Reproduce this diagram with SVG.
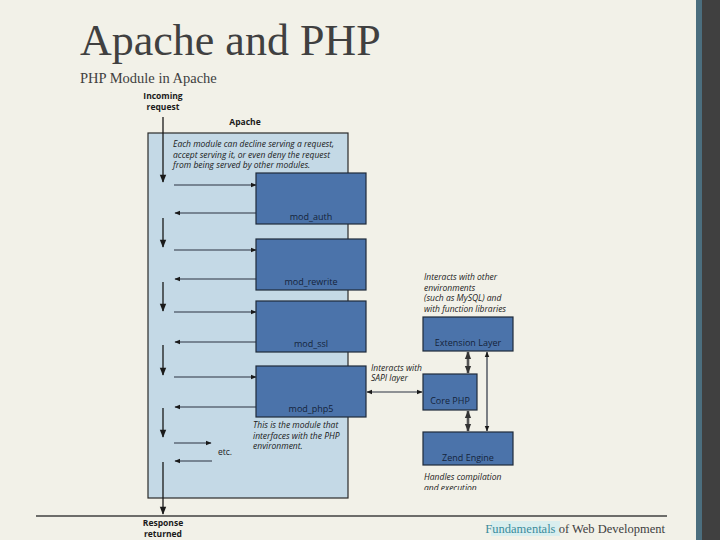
<svg xmlns="http://www.w3.org/2000/svg" width="720" height="540" viewBox="0 0 720 540">
<style>
.bg{fill:#f2f1e8}
.title{font-family:"Liberation Serif",serif;fill:#404040}
.lbl{font-family:"Open Sans","Liberation Sans",sans-serif;font-size:8.5px;fill:#1a1a1a}
.b{font-weight:bold}
.it{font-style:italic}
.apache{fill:#c4d9e6;stroke:#2a2a2a;stroke-width:1.2}
.mod{fill:#4b73aa;stroke:#1e2a3a;stroke-width:1.2}
.mt{font-family:"Open Sans","Liberation Sans",sans-serif;font-size:9px;fill:#14233a;text-anchor:middle}
.ln{stroke:#2a3340;stroke-width:1.2;fill:none}
.dn{stroke:#1a1a1a;stroke-width:1.3;fill:none}
.thk{stroke:#555;stroke-width:2.6;fill:none}
</style>
<defs>
<marker id="ah" viewBox="0 0 10 10" refX="9" refY="5" markerWidth="6" markerHeight="6" orient="auto-start-reverse" markerUnits="userSpaceOnUse">
<path d="M0,1 L10,5 L0,9 Z" fill="#1a1a1a"/>
</marker>
<marker id="ahd" viewBox="0 0 10 10" refX="9" refY="5" markerWidth="9" markerHeight="8" orient="auto-start-reverse" markerUnits="userSpaceOnUse">
<path d="M0,1 L10,5 L0,9 Z" fill="#1a1a1a"/>
</marker>
<marker id="aht" viewBox="0 0 10 10" refX="9" refY="5" markerWidth="8" markerHeight="8" orient="auto-start-reverse" markerUnits="userSpaceOnUse">
<path d="M0,1 L10,5 L0,9 Z" fill="#333"/>
</marker>
<clipPath id="clipb"><rect x="0" y="0" width="720" height="490"/></clipPath>
</defs>
<rect class="bg" x="0" y="0" width="720" height="540"/>
<rect x="696" y="0" width="6" height="540" fill="#4b6e7e"/>
<rect x="702" y="0" width="18" height="540" fill="#404040"/>

<text class="title" x="80" y="55" font-size="44">Apache and PHP</text>
<text class="title" x="80" y="83" font-size="14.5">PHP Module in Apache</text>

<line x1="36" y1="516" x2="667" y2="516" stroke="#404040" stroke-width="1.3"/>
<rect x="491" y="521" width="69" height="15" fill="#d9eeee"/>
<text class="title" x="665" y="533" font-size="12.5" text-anchor="end"><tspan fill="#3a8c9c">Fundamentals</tspan> of Web Development</text>

<g id="apache">
<rect class="apache" x="148" y="133" width="200" height="365"/>
<text class="lbl b" x="245" y="125" text-anchor="middle">Apache</text>
<text class="lbl it" x="173" y="147">Each module can decline serving a request,</text>
<text class="lbl it" x="173" y="157.5">accept serving it, or even deny the request</text>
<text class="lbl it" x="173" y="168">from being served by other modules.</text>
<text class="lbl" x="218" y="455">etc.</text>
</g>

<g id="labels">
<text class="lbl b" x="163" y="99" text-anchor="middle">Incoming</text>
<text class="lbl b" x="163" y="110" text-anchor="middle">request</text>
<text class="lbl b" x="163" y="526" text-anchor="middle">Response</text>
<text class="lbl b" x="163" y="537" text-anchor="middle">returned</text>
<text class="lbl it" x="253" y="428">This is the module that</text>
<text class="lbl it" x="253" y="438.5">interfaces with the PHP</text>
<text class="lbl it" x="253" y="449">environment.</text>
<text class="lbl it" x="371" y="371">Interacts with</text>
<text class="lbl it" x="371" y="381">SAPI layer</text>
<text class="lbl it" x="424" y="280">Interacts with other</text>
<text class="lbl it" x="424" y="290.5">environments</text>
<text class="lbl it" x="424" y="301">(such as MySQL) and</text>
<text class="lbl it" x="424" y="311.5">with function libraries</text>
<g clip-path="url(#clipb)">
<text class="lbl it" x="424" y="480">Handles compilation</text>
<text class="lbl it" x="424" y="490.5">and execution</text>
</g>
</g>

<g id="connectors">
<line class="dn" x1="163" y1="117" x2="163" y2="182" marker-end="url(#ahd)"/>
<line class="dn" x1="163" y1="218" x2="163" y2="247" marker-end="url(#ahd)"/>
<line class="dn" x1="163" y1="282" x2="163" y2="311" marker-end="url(#ahd)"/>
<line class="dn" x1="163" y1="345" x2="163" y2="375" marker-end="url(#ahd)"/>
<line class="dn" x1="163" y1="408" x2="163" y2="437" marker-end="url(#ahd)"/>
<line class="dn" x1="163" y1="462" x2="163" y2="514" marker-end="url(#ahd)"/>

<line class="ln" x1="174" y1="185" x2="256" y2="185" marker-end="url(#ah)"/>
<line class="ln" x1="256" y1="213" x2="175" y2="213" marker-end="url(#ah)"/>
<line class="ln" x1="174" y1="250" x2="256" y2="250" marker-end="url(#ah)"/>
<line class="ln" x1="256" y1="279" x2="175" y2="279" marker-end="url(#ah)"/>
<line class="ln" x1="174" y1="312" x2="256" y2="312" marker-end="url(#ah)"/>
<line class="ln" x1="256" y1="342" x2="175" y2="342" marker-end="url(#ah)"/>
<line class="ln" x1="174" y1="377" x2="256" y2="377" marker-end="url(#ah)"/>
<line class="ln" x1="256" y1="407" x2="175" y2="407" marker-end="url(#ah)"/>
<line class="ln" x1="174" y1="443" x2="211" y2="443" marker-end="url(#ah)"/>
<line class="ln" x1="212" y1="461" x2="175" y2="461" marker-end="url(#ah)"/>

<line class="ln" x1="367" y1="392" x2="422" y2="392" stroke-width="0.9" marker-start="url(#ah)" marker-end="url(#ah)"/>
<line class="thk" x1="468" y1="352" x2="468" y2="373" marker-start="url(#aht)" marker-end="url(#aht)"/>
<line class="thk" x1="468" y1="411" x2="468" y2="431" marker-start="url(#aht)" marker-end="url(#aht)"/>
<line class="ln" x1="487" y1="352" x2="487" y2="431" stroke-width="0.9" marker-start="url(#ah)" marker-end="url(#ah)"/>
</g>

<g id="mod_auth">
<rect class="mod" x="256" y="173" width="110" height="51"/>
<text class="mt" x="311" y="220">mod_auth</text>
</g>
<g id="mod_rewrite">
<rect class="mod" x="256" y="239" width="110" height="51"/>
<text class="mt" x="311" y="285">mod_rewrite</text>
</g>
<g id="mod_ssl">
<rect class="mod" x="256" y="301" width="110" height="51"/>
<text class="mt" x="311" y="347">mod_ssl</text>
</g>
<g id="mod_php5">
<rect class="mod" x="256" y="366" width="110" height="51"/>
<text class="mt" x="311" y="412">mod_php5</text>
</g>

<g id="extension_layer">
<rect class="mod" x="423" y="317" width="90" height="34"/>
<text class="mt" x="468" y="346">Extension Layer</text>
</g>
<g id="core_php">
<rect class="mod" x="423" y="374" width="54" height="36"/>
<text class="mt" x="450" y="404">Core PHP</text>
</g>
<g id="zend_engine">
<rect class="mod" x="423" y="432" width="90" height="33"/>
<text class="mt" x="468" y="461">Zend Engine</text>
</g>
</svg>
